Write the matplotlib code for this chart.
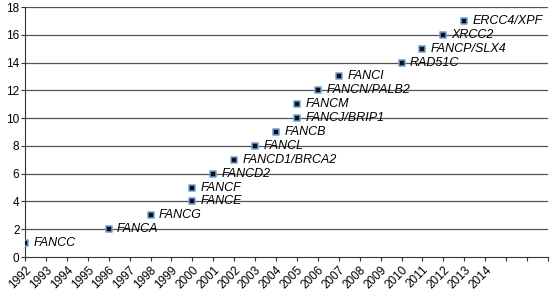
import matplotlib
matplotlib.use("Agg")
import matplotlib.pyplot as plt

genes = ["FANCC", "FANCA", "FANCG", "FANCE", "FANCF", "FANCD2", "FANCD1/BRCA2",
         "FANCL", "FANCB", "FANCJ/BRIP1", "FANCM", "FANCN/PALB2", "FANCI",
         "RAD51C", "FANCP/SLX4", "XRCC2", "ERCC4/XPF"]
years = [1992, 1996, 1998, 2000, 2000, 2001, 2002, 2003, 2004, 2005, 2005,
         2006, 2007, 2010, 2011, 2012, 2013]
counts = [1, 2, 3, 4, 5, 6, 7, 8, 9, 10, 11, 12, 13, 14, 15, 16, 17]
year_labels = [str(y) for y in range(1992, 2015)]

plt.rcParams['font.family'] = ['Liberation Sans', 'DejaVu Sans']
fig = plt.figure(figsize=(5.5, 2.93), dpi=100)
ax = fig.add_axes([25/550, 1 - 257/293, (548-25)/550, (257-7)/293])

for y in range(2, 19, 2):
    ax.axhline(y, color='#555555', lw=0.9, zorder=1)

ax.scatter(years, counts, marker='s', s=20, facecolor='#111111',
           edgecolor='#6a9fd8', linewidths=1.1, zorder=3)
for g, x, y in zip(genes, years, counts):
    ax.annotate(g, (x, y), xytext=(6, 0), textcoords='offset points',
                va='center', ha='left', fontsize=9, style='italic', zorder=4)

ax.set_xlim(1992, 2017)
ax.set_ylim(0, 18)
ticks = list(range(1992, 2018))
ax.set_xticks(ticks)
ax.set_xticklabels(year_labels + [""] * (len(ticks) - len(year_labels)),
                   rotation=45, ha='right', rotation_mode='anchor', fontsize=8.5)
ax.set_yticks(range(0, 19, 2))
ax.tick_params(axis='y', labelsize=8.5, length=3, color='#333333', pad=1)
ax.tick_params(axis='x', length=3, color='#333333', pad=2)
for s in ['top', 'right']:
    ax.spines[s].set_visible(False)
ax.spines['left'].set_color('#333333')
ax.spines['bottom'].set_color('#333333')
ax.set_facecolor('white')
fig.savefig('out.png', dpi=100)
